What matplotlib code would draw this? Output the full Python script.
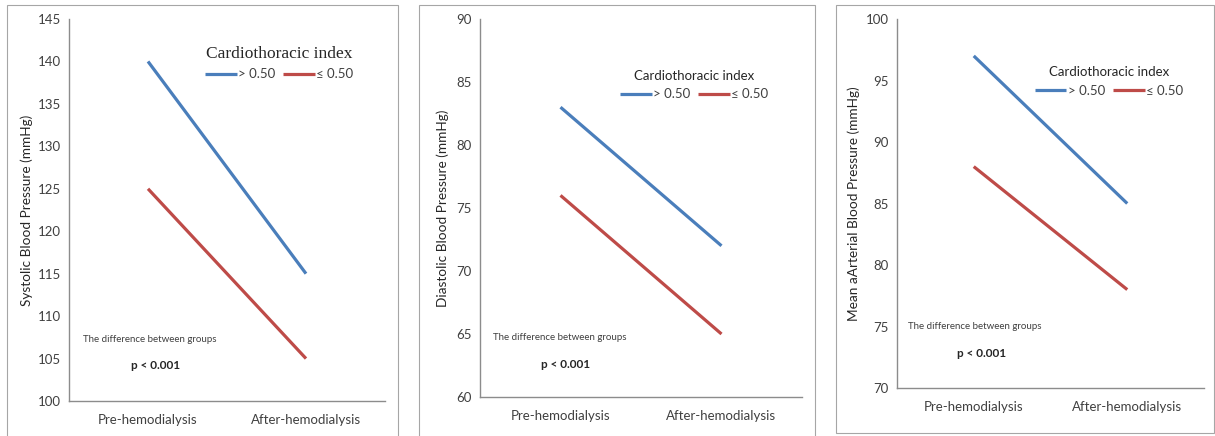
import matplotlib.pyplot as plt
from matplotlib.patches import Rectangle

phases = ['Pre-hemodialysis', 'After-hemodialysis']
groups = ['> 0.50', '\u2264 0.50']

sbp_high = [140, 115]
sbp_low = [125, 105]
dbp_high = [83, 72]
dbp_low = [76, 65]
map_high = [97, 85]
map_low = [88, 78]

blue = '#4a7ebb'
red = '#be4b48'
gray = '#8c8c8c'

W, H = 1215, 436
fig = plt.figure(figsize=(W / 100, H / 100), dpi=100)
plt.rcParams['font.family'] = ['Lato', 'DejaVu Sans']

# panel borders (pixels: left, top, right, bottom)
for l, t, r, b in [(7, 5, 398, 440), (419, 5, 815, 440), (836, 5, 1214, 433)]:
    fig.patches.append(Rectangle((l / W, 1 - b / H), (r - l) / W, (b - t) / H,
                                 transform=fig.transFigure, fill=False,
                                 edgecolor='#a6a6a6', linewidth=0.8))

panels = [
    dict(box=(69, 19, 385, 401), hi=sbp_high, lo=sbp_low, ylim=(100, 145),
         ylabel='Systolic Blood Pressure (mmHg)', leg=(0.665, 0.885),
         tfont=dict(family='Liberation Serif', size=12.5),
         note=(0.045, 0.155), p=(0.195, 0.085), lpad=3),
    dict(box=(480, 19, 802, 397), hi=dbp_high, lo=dbp_low, ylim=(60, 90),
         ylabel='Diastolic Blood Pressure (mmHg)', leg=(0.665, 0.825),
         tfont=dict(size=9.5),
         note=(0.04, 0.15), p=(0.19, 0.078), lpad=5),
    dict(box=(897, 19, 1204, 388), hi=map_high, lo=map_low, ylim=(70, 100),
         ylabel='Mean aArterial Blood Pressure (mmHg)', leg=(0.69, 0.83),
         tfont=dict(size=9.5),
         note=(0.035, 0.16), p=(0.195, 0.085), lpad=4),
]

for pnl in panels:
    l, t, r, b = pnl['box']
    ax = fig.add_axes([l / W, 1 - b / H, (r - l) / W, (b - t) / H])
    x = [0, 1]
    ax.plot(x, pnl['hi'], color=blue, linewidth=2.3, label=groups[0], solid_capstyle='butt')
    ax.plot(x, pnl['lo'], color=red, linewidth=2.3, label=groups[1], solid_capstyle='butt')
    ax.set_xlim(-0.5, 1.5)
    ax.set_ylim(*pnl['ylim'])
    ax.set_yticks(range(pnl['ylim'][0], pnl['ylim'][1] + 1, 5))
    ax.set_xticks(x)
    ax.set_xticklabels(phases)
    ax.tick_params(length=0, labelsize=9.5, colors='#404040', pad=6)
    ax.tick_params(axis='x', pad=9)
    for s in ['top', 'right']:
        ax.spines[s].set_visible(False)
    for s in ['left', 'bottom']:
        ax.spines[s].set_color(gray)
        ax.spines[s].set_linewidth(1.0)
    ax.set_ylabel(pnl['ylabel'], fontsize=9.8, color='#262626', labelpad=pnl['lpad'])
    leg = ax.legend(loc='center', bbox_to_anchor=pnl['leg'], ncol=2, frameon=False,
                    fontsize=9.5, handlelength=2.4, handletextpad=0.1,
                    columnspacing=0.6, title='Cardiothoracic index',
                    title_fontproperties=pnl['tfont'])
    leg.get_title().set_color('#262626')
    for txt in leg.get_texts():
        txt.set_color('#404040')
    ax.text(pnl['note'][0], pnl['note'][1], 'The difference between groups',
            transform=ax.transAxes, fontsize=7, color='#404040')
    ax.text(pnl['p'][0], pnl['p'][1], 'p < 0.001', transform=ax.transAxes,
            fontsize=8.5, fontweight='bold', color='#262626')

fig.savefig('out.png', dpi=100)
